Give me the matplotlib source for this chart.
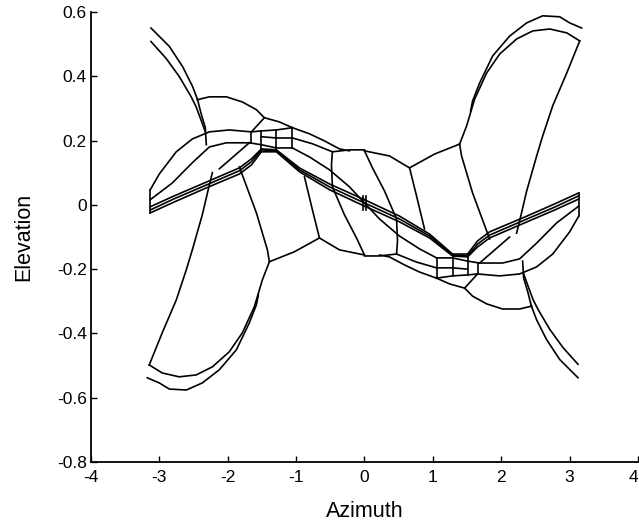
import matplotlib
matplotlib.use("Agg")
import matplotlib.pyplot as plt

# each curve: (azimuth list, elevation list)
# --- upper-left / left half ---
horn_ul_outer = ([-3.123, -2.855, -2.660, -2.514, -2.441, -2.391, -2.328, -2.313],
                 [0.550, 0.493, 0.430, 0.368, 0.327, 0.285, 0.240, 0.187])
horn_ul_inner = ([-3.123, -2.903, -2.709, -2.537, -2.464, -2.391, -2.328],
                 [0.508, 0.456, 0.399, 0.337, 0.306, 0.264, 0.227])
cap_ul = ([-2.445, -2.269, -2.020, -1.786, -1.581, -1.464, -1.245, -1.054],
          [0.327, 0.336, 0.336, 0.320, 0.296, 0.271, 0.258, 0.240])
cap_link_ul = ([-1.464, -1.654], [0.271, 0.227])
band_up_l = ([-3.133, -3.001, -2.753, -2.518, -2.269, -1.977, -1.654, -1.508, -1.288, -1.054],
             [0.047, 0.096, 0.165, 0.205, 0.227, 0.233, 0.227, 0.230, 0.233, 0.240])
band_up_cont_l = ([-1.054, -0.805, -0.586, -0.366, -0.220],
                  [0.240, 0.221, 0.199, 0.174, 0.168])
band_lo_l = ([-3.133, -2.811, -2.518, -2.269, -2.020, -1.684, -1.508, -1.288, -1.054],
             [0.016, 0.068, 0.131, 0.180, 0.193, 0.193, 0.187, 0.177, 0.177])
box_mid_l = ([-1.508, -1.288, -1.054], [0.212, 0.208, 0.208])
box_v1_l = ([-1.654, -1.654], [0.227, 0.193])
box_v2_l = ([-1.508, -1.508], [0.230, 0.171])
box_v3_l = ([-1.288, -1.288], [0.233, 0.171])
box_v4_l = ([-1.054, -1.054], [0.240, 0.177])
cell_top_l = ([-1.054, -0.761, -0.469, -0.220, 0.0], [0.208, 0.190, 0.165, 0.171, 0.171])
bottom_arc_l = ([-1.391, -1.025, -0.659, -0.366, 0.0], [-0.177, -0.146, -0.103, -0.140, -0.156])
inner_arc_l = ([-1.054, -0.805, -0.512, -0.220, 0.0], [0.177, 0.149, 0.109, 0.056, 0.006])
ridge1_l = ([-3.133, -2.782, -2.343, -1.830, -1.654, -1.508],
            [-0.006, 0.028, 0.068, 0.115, 0.143, 0.174])
ridge2_l = ([-3.133, -2.782, -2.343, -1.830, -1.654, -1.508],
            [-0.016, 0.019, 0.059, 0.106, 0.134, 0.171])
ridge3_l = ([-3.133, -2.782, -2.343, -1.830, -1.654, -1.508],
            [-0.025, 0.009, 0.050, 0.096, 0.124, 0.165])
ridge_c1_l = ([-1.508, -1.288, -0.952, -0.512, 0.0], [0.174, 0.171, 0.115, 0.065, 0.016])
ridge_c2_l = ([-1.508, -1.288, -0.952, -0.512, 0.0], [0.171, 0.168, 0.109, 0.056, 0.006])
ridge_c3_l = ([-1.508, -1.288, -0.952, -0.512, 0.0], [0.165, 0.165, 0.103, 0.047, -0.004])
bracket_l = ([-3.133, -3.133], [0.047, -0.025])
horn_ll_edge_a = ([-2.225, -2.269, -2.372, -2.518, -2.606, -2.753, -2.958, -3.148],
                  [0.100, 0.062, -0.031, -0.140, -0.202, -0.296, -0.398, -0.498])
horn_ll_edge_b = ([-1.830, -1.581, -1.420, -1.391], [0.118, -0.025, -0.140, -0.177])
horn_ll_inner = ([-3.148, -2.958, -2.709, -2.460, -2.225, -1.977, -1.786, -1.611, -1.493, -1.391],
                 [-0.498, -0.523, -0.535, -0.529, -0.504, -0.457, -0.398, -0.317, -0.233, -0.177])
horn_ll_outer = ([-3.177, -3.001, -2.855, -2.606, -2.372, -2.123, -1.874, -1.684, -1.581, -1.552],
                 [-0.538, -0.554, -0.573, -0.576, -0.554, -0.513, -0.451, -0.367, -0.311, -0.280])
slant_l = ([-1.684, -2.123], [0.193, 0.112])
spoke_a_l = ([-0.878, -0.761, -0.659], [0.087, -0.016, -0.103])
spoke_b_l = ([-0.469, -0.483, -0.469, -0.293, -0.117, 0.0], [0.165, 0.124, 0.056, -0.031, -0.103, -0.156])
center_tick_l = ([-0.015, -0.015], [0.028, -0.016])

# --- lower-right / right half ---
horn_lr_inner = ([3.123, 2.855, 2.660, 2.514, 2.441, 2.391, 2.328, 2.313],
                 [-0.538, -0.481, -0.418, -0.356, -0.315, -0.273, -0.228, -0.175])
horn_lr_outer = ([3.123, 2.903, 2.709, 2.537, 2.464, 2.391, 2.328],
                 [-0.496, -0.444, -0.387, -0.325, -0.294, -0.252, -0.215])
cap_lr = ([2.445, 2.269, 2.020, 1.786, 1.581, 1.464, 1.245, 1.054],
          [-0.315, -0.324, -0.324, -0.308, -0.284, -0.259, -0.246, -0.228])
cap_link_lr = ([1.464, 1.654], [-0.259, -0.215])
band_up_r = ([3.133, 3.001, 2.753, 2.518, 2.269, 1.977, 1.654, 1.508, 1.288, 1.054],
             [-0.035, -0.084, -0.153, -0.193, -0.215, -0.221, -0.215, -0.218, -0.221, -0.228])
band_up_cont_r = ([1.054, 0.805, 0.586, 0.366, 0.220],
                  [-0.228, -0.209, -0.187, -0.162, -0.156])
band_lo_r = ([3.133, 2.811, 2.518, 2.269, 2.020, 1.684, 1.508, 1.288, 1.054],
             [-0.004, -0.056, -0.119, -0.168, -0.181, -0.181, -0.175, -0.165, -0.165])
box_mid_r = ([1.508, 1.288, 1.054], [-0.200, -0.196, -0.196])
box_v1_r = ([1.654, 1.654], [-0.215, -0.181])
box_v2_r = ([1.508, 1.508], [-0.218, -0.159])
box_v3_r = ([1.288, 1.288], [-0.221, -0.159])
box_v4_r = ([1.054, 1.054], [-0.228, -0.165])
bottom_arc_r = ([1.054, 0.761, 0.469, 0.220, 0.0], [-0.196, -0.178, -0.153, -0.159, -0.159])
cell_top_r = ([1.391, 1.025, 0.659, 0.366, 0.0], [0.189, 0.158, 0.115, 0.152, 0.168])
inner_arc_r = ([1.054, 0.805, 0.512, 0.220, 0.0], [-0.165, -0.137, -0.097, -0.044, 0.006])
ridge1_r = ([3.133, 2.782, 2.343, 1.830, 1.654, 1.508],
            [0.018, -0.016, -0.056, -0.103, -0.131, -0.162])
ridge2_r = ([3.133, 2.782, 2.343, 1.830, 1.654, 1.508],
            [0.028, -0.007, -0.047, -0.094, -0.122, -0.159])
ridge3_r = ([3.133, 2.782, 2.343, 1.830, 1.654, 1.508],
            [0.037, 0.003, -0.038, -0.084, -0.112, -0.153])
ridge_c1_r = ([1.508, 1.288, 0.952, 0.512, 0.0], [-0.162, -0.159, -0.103, -0.053, -0.004])
ridge_c2_r = ([1.508, 1.288, 0.952, 0.512, 0.0], [-0.159, -0.156, -0.097, -0.044, 0.006])
ridge_c3_r = ([1.508, 1.288, 0.952, 0.512, 0.0], [-0.153, -0.153, -0.091, -0.035, 0.016])
bracket_r = ([3.133, 3.133], [-0.035, 0.037])
horn_ur_edge_a = ([2.225, 2.269, 2.372, 2.518, 2.606, 2.753, 2.958, 3.148],
                  [-0.088, -0.050, 0.043, 0.152, 0.214, 0.308, 0.410, 0.510])
horn_ur_edge_b = ([1.830, 1.581, 1.420, 1.391], [-0.106, 0.037, 0.152, 0.189])
horn_ur_inner = ([3.148, 2.958, 2.709, 2.460, 2.225, 1.977, 1.786, 1.611, 1.493, 1.391],
                 [0.510, 0.535, 0.547, 0.541, 0.516, 0.469, 0.410, 0.329, 0.245, 0.189])
horn_ur_outer = ([3.177, 3.001, 2.855, 2.606, 2.372, 2.123, 1.874, 1.684, 1.581, 1.552],
                 [0.550, 0.566, 0.585, 0.588, 0.566, 0.525, 0.463, 0.379, 0.323, 0.292])
slant_r = ([1.684, 2.123], [-0.181, -0.100])
spoke_a_r = ([0.878, 0.761, 0.659], [-0.075, 0.028, 0.115])
spoke_b_r = ([0.469, 0.483, 0.469, 0.293, 0.117, 0.0], [-0.153, -0.112, -0.044, 0.043, 0.115, 0.168])
center_tick_r = ([0.015, 0.015], [-0.016, 0.028])

curves = [
    horn_ul_outer, horn_ul_inner, cap_ul, cap_link_ul, band_up_l, band_up_cont_l,
    band_lo_l, box_mid_l, box_v1_l, box_v2_l, box_v3_l, box_v4_l, cell_top_l,
    bottom_arc_l, inner_arc_l, ridge1_l, ridge2_l, ridge3_l, ridge_c1_l, ridge_c2_l,
    ridge_c3_l, bracket_l, horn_ll_edge_a, horn_ll_edge_b, horn_ll_inner,
    horn_ll_outer, slant_l, spoke_a_l, spoke_b_l, center_tick_l,
    horn_lr_inner, horn_lr_outer, cap_lr, cap_link_lr, band_up_r, band_up_cont_r,
    band_lo_r, box_mid_r, box_v1_r, box_v2_r, box_v3_r, box_v4_r, bottom_arc_r,
    cell_top_r, inner_arc_r, ridge1_r, ridge2_r, ridge3_r, ridge_c1_r, ridge_c2_r,
    ridge_c3_r, bracket_r, horn_ur_edge_a, horn_ur_edge_b, horn_ur_inner,
    horn_ur_outer, slant_r, spoke_a_r, spoke_b_r, center_tick_r,
]

x_ticks = [-4, -3, -2, -1, 0, 1, 2, 3, 4]
y_ticks = [-0.8, -0.6, -0.4, -0.2, 0, 0.2, 0.4, 0.6]
y_tick_labels = ["-0.8", "-0.6", "-0.4", "-0.2", "0", "0.2", "0.4", "0.6"]

plt.rcParams["font.family"] = ["Liberation Sans", "DejaVu Sans"]
plt.rcParams["axes.unicode_minus"] = False

fig = plt.figure(figsize=(6.39, 5.27), dpi=100)
ax = fig.add_axes([0.1424, 0.1233, 0.856, 0.854])

for az, el in curves:
    ax.plot(az, el, color="black", lw=1.2, solid_joinstyle="round")

ax.set_xlim(-4, 4)
ax.set_ylim(-0.8, 0.6)
ax.set_xticks(x_ticks)
ax.set_xticklabels([str(t) for t in x_ticks])
ax.set_yticks(y_ticks)
ax.set_yticklabels(y_tick_labels)
# last x label sits at the figure edge; keep it inside
ax.get_xticklabels()[-1].set_horizontalalignment("right")
ax.spines["top"].set_visible(False)
ax.spines["right"].set_visible(False)
ax.spines["left"].set_linewidth(1.3)
ax.spines["bottom"].set_linewidth(1.3)
ax.tick_params(direction="in", length=4, width=1.0, labelsize=12.5)
ax.tick_params(axis="x", pad=6)
ax.tick_params(axis="y", pad=3)
ax.set_xlabel("Azimuth", fontsize=15.5, labelpad=11)
ax.set_ylabel("Elevation", fontsize=15.5, labelpad=16)

fig.savefig("out.png", dpi=100)
